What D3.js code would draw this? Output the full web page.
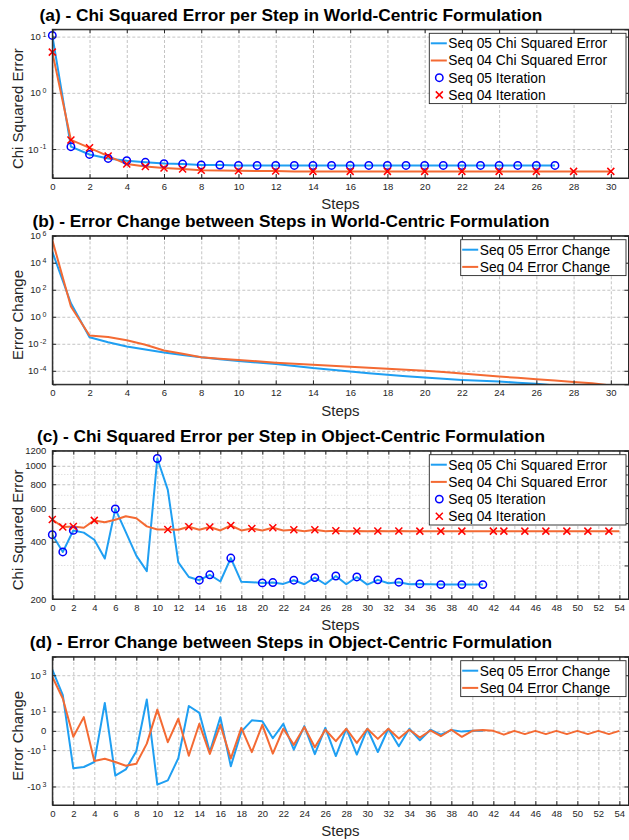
<!DOCTYPE html>
<html>
<head>
<meta charset="utf-8">
<script src="https://cdn.jsdelivr.net/npm/d3@7"></script>
<style>
  body { margin: 0; background: #fff; }
</style>
</head>
<body>
<script>
// ---- data ----
// (a) world-centric chi squared error, index = step
const a05Chi = [10.5, 0.11, 0.080, 0.068, 0.062, 0.058, 0.055, 0.054, 0.052, 0.052,
  0.051, 0.051, 0.051, 0.051, 0.051, 0.051, 0.051, 0.051, 0.051, 0.051,
  0.051, 0.051, 0.051, 0.051, 0.051, 0.051, 0.051, 0.051];
const a04Chi = [5.3, 0.145, 0.105, 0.075, 0.054, 0.049, 0.046, 0.044, 0.042, 0.0415,
  0.041, 0.0405, 0.0405, 0.040, 0.040, 0.040, 0.040, 0.040, 0.040, 0.040,
  0.040, 0.040, 0.040, 0.040, 0.040, 0.040, 0.040, 0.040, 0.040, 0.040, 0.040];
const a05IterSteps = [0, 1, 2, 3, 4, 5, 6, 7, 8, 9, 10, 11, 12, 13, 14, 15, 16, 17, 18, 19,
  20, 21, 22, 23, 24, 25, 26, 27];
const a04IterSteps = [0, 1, 2, 3, 4, 5, 6, 7, 8, 10, 12, 14, 16, 18, 20, 22, 24, 26, 28, 30];

// (b) world-centric error change
const b05Change = [6.5e4, 10, 0.03, 0.013, 0.0063, 0.0038, 0.0023, 0.0015, 0.001, 7.2e-4,
  5.2e-4, 4.1e-4, 3.2e-4, 2.3e-4, 1.6e-4, 1.2e-4, 9e-5, 6.7e-5, 5e-5, 4e-5,
  3.2e-5, 2.6e-5, 2.1e-5, 1.8e-5, 1.6e-5, 1.3e-5, 1.1e-5, 8e-6];
const b04Change = [4.8e5, 5.8, 0.041, 0.032, 0.018, 0.0085, 0.0032, 0.0018, 0.001, 7.8e-4,
  6.3e-4, 5e-4, 4e-4, 3.3e-4, 2.8e-4, 2.4e-4, 2e-4, 1.7e-4, 1.4e-4, 1.2e-4,
  1e-4, 8e-5, 6.3e-5, 4.9e-5, 3.8e-5, 3e-5, 2.4e-5, 1.9e-5, 1.5e-5, 1.2e-5, 8e-6];

// (c) object-centric chi squared error
const c05Chi = [435, 353, 458, 446, 409, 326, 594, 449, 338, 280,
  1092, 747, 311, 261, 251, 268, 247, 328, 246, 245,
  243, 244, 240, 251, 239, 259, 239, 264, 239, 261,
  238, 252, 242, 245, 239, 240, 239, 238, 238, 238, 238, 238];
const c04Chi = [523, 477, 480, 473, 517, 506, 521, 544, 531, 481,
  463, 463, 462, 479, 462, 477, 458, 486, 458, 469,
  458, 473, 458, 462, 454, 462, 453, 456, 454, 455,
  454, 455, 454, 455, 454, 454, 454, 454, 454, 454,
  454, 454, 454, 454, 454, 454, 454, 454, 454, 454, 454, 454, 454, 454, 454];
const c05IterSteps = [0, 1, 2, 6, 10, 14, 15, 17, 20, 21, 23, 25, 27, 29, 31, 33, 35, 37, 39, 41];
const c04IterSteps = [0, 1, 2, 4, 11, 13, 15, 17, 19, 21, 23, 25, 27, 29, 31, 33, 35, 37, 39,
  42, 43, 45, 47, 49, 51, 53];

// (d) object-centric error change
const d05Change = [2000, 83, -104, -88, -47, 31, -260, -119, -11.6, 48,
  -800, -470, -29, 21, 8.4, -13, 4.4, -80, -0.1, 2.7,
  2.3, -1.5, 1.4, -9.3, 0.8, -17, 0.45, -22, 0.3, -18,
  0.3, -12.8, 0.3, -5.8, 0.3, -2.2, 0.15, -0.6, 0.1, -0.1, 0, 0];
const d04Change = [830, 55, -1.1, 4.5, -41, -31, -47, -75, -58, -3.9,
  13, -3.1, 3.5, -21, 1.4, -16.5, 1.1, -30, 0.45, -13,
  1.1, -16, 0.3, -4.7, 0.6, -6.7, 0.15, -2.6, 0.3, -3.5,
  0.3, -1.7, 0.3, -1.6, 0.15, -1.3, 0.05, -0.95, 0.15, -1.1,
  0, 0.1, 0, -0.6, 0, -0.5, 0, -0.5, 0, -0.5,
  0, -0.5, 0, -0.5, 0];

// tick values
const xTicksWorld = [0, 2, 4, 6, 8, 10, 12, 14, 16, 18, 20, 22, 24, 26, 28, 30];
const xTicksObject = [0, 2, 4, 6, 8, 10, 12, 14, 16, 18, 20, 22, 24, 26, 28, 30,
  32, 34, 36, 38, 40, 42, 44, 46, 48, 50, 52, 54];
const aYTicks = [0.1, 1, 10];
const bYTicks = [1e-4, 1e-2, 1, 1e2, 1e4, 1e6];
const cYTicks = [200, 400, 600, 800, 1000, 1200];
const cYMinor = [300, 500, 700, 900];
const dYTicks = [-1000, -10, 0, 10, 1000];

// ---- layout ----
const width = 629, height = 840;
const left = 52.3, right = 628.5;
const blue = "#1f9ff2", orange = "#f46a33";
const markBlue = "#0000ff", markRed = "#ff0000";
const ink = "#262626";

const svg = d3.select("body").append("svg")
  .attr("width", width).attr("height", height)
  .style("font-family", "'Liberation Sans', Arial, Helvetica, sans-serif");

// "10^n" style label
function powLabel(text, base, exp) {
  text.text(null);
  text.append("tspan").text(base);
  if (exp !== null) {
    text.append("tspan").attr("font-size", 7).attr("dy", "-0.5em").attr("dx", 1.5).text(exp);
  }
}

function drawPanel(p) {
  const g = svg.append("g");
  const { top, bottom, x, y } = p;
  const clipId = "clip-" + p.id;
  svg.append("clipPath").attr("id", clipId)
    .append("rect").attr("x", left).attr("y", top)
    .attr("width", right - left).attr("height", bottom - top);

  // grid
  if (p.yMinor) {
    g.selectAll(".minor").data(p.yMinor).join("line")
      .attr("x1", left).attr("x2", right)
      .attr("y1", d => y(d)).attr("y2", d => y(d))
      .attr("stroke", "#d4d4d4").attr("stroke-dasharray", "1,2");
  }
  g.append("g")
    .attr("transform", `translate(0,${bottom})`)
    .call(d3.axisBottom(x).tickValues(p.xTicks).tickSize(-(bottom - top)).tickFormat(""))
    .call(s => {
      s.select(".domain").remove();
      s.selectAll("line").attr("stroke", "#c4c4c4").attr("stroke-dasharray", "3,2");
    });
  g.append("g")
    .attr("transform", `translate(${left},0)`)
    .call(d3.axisLeft(y).tickValues(p.yTicks).tickSize(-(right - left)).tickFormat(""))
    .call(s => {
      s.select(".domain").remove();
      s.selectAll("line").attr("stroke", "#c4c4c4").attr("stroke-dasharray", "3,2");
    });

  // lines
  const plot = g.append("g").attr("clip-path", `url(#${clipId})`);
  p.series.forEach(sr => {
    const line = d3.line().x((d, i) => x(i)).y(d => y(d));
    plot.append("path")
      .datum(sr.values)
      .attr("fill", "none")
      .attr("stroke", sr.color)
      .attr("stroke-width", 2)
      .attr("stroke-linejoin", "round")
      .attr("d", line);
  });

  // markers
  (p.markers || []).forEach(m => {
    const pts = m.steps.map(s => ({ s, v: m.values[s] }));
    if (m.shape === "circle") {
      g.selectAll(null).data(pts).join("circle")
        .attr("cx", d => x(d.s)).attr("cy", d => y(d.v)).attr("r", 3.7)
        .attr("fill", "none").attr("stroke", markBlue).attr("stroke-width", 1.5);
    } else {
      g.selectAll(null).data(pts).join("path")
        .attr("transform", d => `translate(${x(d.s)},${y(d.v)})`)
        .attr("d", "M-3.5,-3.5L3.5,3.5M-3.5,3.5L3.5,-3.5")
        .attr("stroke", markRed).attr("stroke-width", 1.5);
    }
  });

  // axes with inward ticks
  const bottomAxis = g.append("g")
    .attr("transform", `translate(0,${bottom})`)
    .call(d3.axisBottom(x).tickValues(p.xTicks).tickSize(-4).tickPadding(5).tickFormat(d3.format("d")));
  bottomAxis.selectAll("text").attr("font-size", 9.5).attr("fill", ink).attr("font-family", null);
  g.append("g")
    .attr("transform", `translate(0,${top})`)
    .call(d3.axisTop(x).tickValues(p.xTicks).tickSize(-4).tickFormat(""));
  const leftAxis = g.append("g")
    .attr("transform", `translate(${left},0)`)
    .call(d3.axisLeft(y).tickValues(p.yTicks).tickSize(-4).tickPadding(6));
  leftAxis.selectAll("text")
    .attr("font-size", 9.5).attr("fill", ink).attr("font-family", null)
    .each(function (d) {
      const lab = p.yLabel(d);
      powLabel(d3.select(this), lab[0], lab[1]);
    });
  g.append("g")
    .attr("transform", `translate(${right},0)`)
    .call(d3.axisRight(y).tickValues(p.yTicks.concat(p.yMinor || [])).tickSize(-4).tickFormat(""));
  g.selectAll(".domain").attr("stroke", ink);
  g.selectAll(".tick line").filter(function () {
    return !d3.select(this).attr("stroke-dasharray");
  }).attr("stroke", ink);

  // frame
  g.append("rect")
    .attr("x", left).attr("y", top)
    .attr("width", right - left).attr("height", bottom - top)
    .attr("fill", "none").attr("stroke", ink).attr("stroke-width", 1);

  // title and axis labels
  svg.append("text")
    .attr("x", 291).attr("y", top - 14.5).attr("dy", "0.35em")
    .attr("text-anchor", "middle")
    .attr("font-size", 17.3).attr("font-weight", "bold").attr("fill", "#000")
    .text(p.title);
  svg.append("text")
    .attr("x", (left + right) / 2).attr("y", bottom + 26).attr("dy", "0.35em")
    .attr("text-anchor", "middle").attr("font-size", 15).attr("fill", ink)
    .text("Steps");
  svg.append("text")
    .attr("transform", `translate(18,${(top + bottom) / 2 + 5}) rotate(-90)`)
    .attr("dy", "0.35em")
    .attr("text-anchor", "middle").attr("font-size", 15).attr("fill", ink)
    .text(p.ylabel);

  // legend
  const lg = svg.append("g");
  const lx = p.legendX, ly = top + 4, rowH = 17.2;
  lg.append("rect")
    .attr("x", lx).attr("y", ly)
    .attr("width", 626 - lx).attr("height", p.legend.length * rowH + 1.5)
    .attr("fill", "#fff").attr("stroke", ink).attr("stroke-width", 0.9);
  p.legend.forEach((it, i) => {
    const cy = ly + 10 + i * rowH;
    if (it.kind === "line") {
      lg.append("line").attr("x1", lx + 1.5).attr("x2", lx + 17.5)
        .attr("y1", cy).attr("y2", cy)
        .attr("stroke", it.color).attr("stroke-width", 2);
    } else if (it.kind === "circle") {
      lg.append("circle").attr("cx", lx + 10).attr("cy", cy).attr("r", 3.7)
        .attr("fill", "none").attr("stroke", markBlue).attr("stroke-width", 1.5);
    } else {
      lg.append("path")
        .attr("transform", `translate(${lx + 10},${cy})`)
        .attr("d", "M-3.5,-3.5L3.5,3.5M-3.5,3.5L3.5,-3.5")
        .attr("stroke", markRed).attr("stroke-width", 1.5);
    }
    lg.append("text")
      .attr("x", lx + 19).attr("y", cy).attr("dy", "0.35em")
      .attr("font-size", 13.8).attr("fill", "#000")
      .text(it.label);
  });
}

const logLabel = d => {
  const e = Math.round(Math.log10(d));
  return ["10", String(e)];
};

const xWorld = d3.scaleLinear().domain([0, 30.95]).range([left, right]);
const xObject = d3.scaleLinear().domain([0, 54.87]).range([left, right]);

// (a)
drawPanel({
  id: "a", top: 29.3, bottom: 178,
  x: xWorld,
  y: d3.scaleLog().domain([0.0305, 13.5]).range([178, 29.3]),
  xTicks: xTicksWorld, yTicks: aYTicks, yLabel: logLabel,
  title: "(a) - Chi Squared Error per Step in World-Centric Formulation",
  ylabel: "Chi Squared Error",
  series: [{ values: a05Chi, color: blue }, { values: a04Chi, color: orange }],
  markers: [
    { steps: a05IterSteps, values: a05Chi, shape: "circle" },
    { steps: a04IterSteps, values: a04Chi, shape: "x" }
  ],
  legendX: 429.3,
  legend: [
    { kind: "line", color: blue, label: "Seq 05 Chi Squared Error" },
    { kind: "line", color: orange, label: "Seq 04 Chi Squared Error" },
    { kind: "circle", label: "Seq 05 Iteration" },
    { kind: "x", label: "Seq 04 Iteration" }
  ]
});

// (b)
drawPanel({
  id: "b", top: 235.7, bottom: 384.3,
  x: xWorld,
  y: d3.scaleLog().domain([1e-5, 1e6]).range([384.3, 235.7]),
  xTicks: xTicksWorld, yTicks: bYTicks, yLabel: logLabel,
  title: "(b) - Error Change between Steps in World-Centric Formulation",
  ylabel: "Error Change",
  series: [{ values: b05Change, color: blue }, { values: b04Change, color: orange }],
  legendX: 460.7,
  legend: [
    { kind: "line", color: blue, label: "Seq 05 Error Change" },
    { kind: "line", color: orange, label: "Seq 04 Error Change" }
  ]
});

// (c)
drawPanel({
  id: "c", top: 450.7, bottom: 599,
  x: xObject,
  y: d3.scaleLog().domain([200, 1200]).range([599, 450.7]),
  xTicks: xTicksObject, yTicks: cYTicks, yMinor: cYMinor,
  yLabel: d => [String(d), null],
  title: "(c) - Chi Squared Error per Step in Object-Centric Formulation",
  ylabel: "Chi Squared Error",
  series: [{ values: c05Chi, color: blue }, { values: c04Chi, color: orange }],
  markers: [
    { steps: c05IterSteps, values: c05Chi, shape: "circle" },
    { steps: c04IterSteps, values: c04Chi, shape: "x" }
  ],
  legendX: 429.3,
  legend: [
    { kind: "line", color: blue, label: "Seq 05 Chi Squared Error" },
    { kind: "line", color: orange, label: "Seq 04 Chi Squared Error" },
    { kind: "circle", label: "Seq 05 Iteration" },
    { kind: "x", label: "Seq 04 Iteration" }
  ]
});

// (d)
drawPanel({
  id: "d", top: 656.7, bottom: 805,
  x: xObject,
  y: d3.scaleSymlog().constant(1).domain([-1e4, 1e4]).range([805, 656.7]),
  xTicks: xTicksObject, yTicks: dYTicks,
  yLabel: d => {
    if (d === 0) return ["0", null];
    const e = Math.round(Math.log10(Math.abs(d)));
    return [(d < 0 ? "-" : "") + "10", String(e)];
  },
  title: "(d) - Error Change between Steps in Object-Centric Formulation",
  ylabel: "Error Change",
  series: [{ values: d05Change, color: blue }, { values: d04Change, color: orange }],
  legendX: 460.7,
  legend: [
    { kind: "line", color: blue, label: "Seq 05 Error Change" },
    { kind: "line", color: orange, label: "Seq 04 Error Change" }
  ]
});
</script>
</body>
</html>
